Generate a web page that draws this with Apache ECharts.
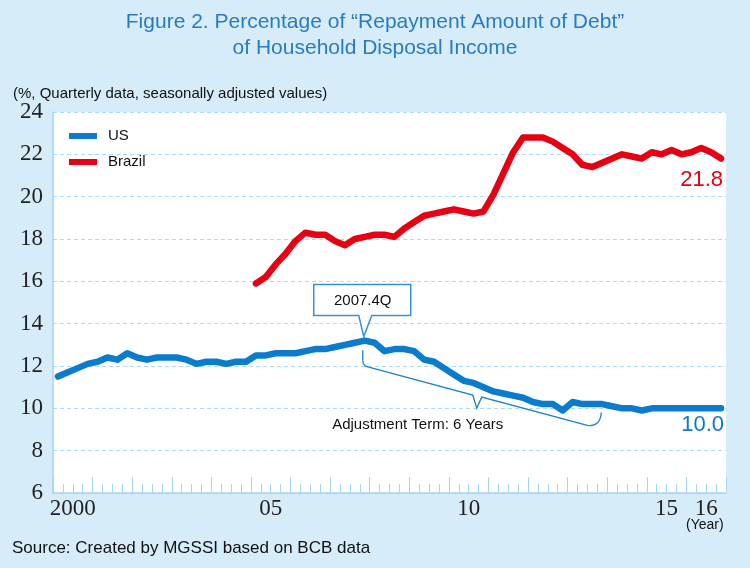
<!DOCTYPE html>
<html>
<head>
<meta charset="utf-8">
<script src="https://cdn.jsdelivr.net/npm/echarts@6.0.0/dist/echarts.min.js"></script>
<style>
html,body{margin:0;padding:0;background:#d6ecf9;}
#chart{width:750px;height:568px;}
</style>
</head>
<body>
<div id="chart"></div>
<script>
// ---------- DATA ----------
const years = ['2000','2001','2002','2003','2004','2005','2006','2007','2008','2009','2010','2011','2012','2013','2014','2015','2016'];
const yearTickLabels = ['2000','','','','','05','','','','','10','','','','','15','16'];
const quarterNames = ['Q1','Q2','Q3','Q4'];
const yTicks = { min: 6, max: 24, interval: 2 };

// US, 2000Q1 .. 2016Q4
const usValues = [
  11.5, 11.7, 11.9, 12.1,
  12.2, 12.4, 12.3, 12.6,
  12.4, 12.3, 12.4, 12.4,
  12.4, 12.3, 12.1, 12.2,
  12.2, 12.1, 12.2, 12.2,
  12.5, 12.5, 12.6, 12.6,
  12.6, 12.7, 12.8, 12.8,
  12.9, 13.0, 13.1, 13.2,
  13.1, 12.7, 12.8, 12.8,
  12.7, 12.3, 12.2, 11.9,
  11.6, 11.3, 11.2, 11.0,
  10.8, 10.7, 10.6, 10.5,
  10.3, 10.2, 10.2, 9.9,
  10.3, 10.2, 10.2, 10.2,
  10.1, 10.0, 10.0, 9.9,
  10.0, 10.0, 10.0, 10.0,
  10.0, 10.0, 10.0, 10.0
];
// Brazil, 2005Q1 .. 2016Q4
const brazilStart = '2005Q1';
const brazilValues = [
  15.9, 16.2, 16.8, 17.3,
  17.9, 18.3, 18.2, 18.2,
  17.9, 17.7, 18.0, 18.1,
  18.2, 18.2, 18.1, 18.5,
  18.8, 19.1, 19.2, 19.3,
  19.4, 19.3, 19.2, 19.3,
  20.1, 21.1, 22.1, 22.8,
  22.8, 22.8, 22.6, 22.3,
  22.0, 21.5, 21.4, 21.6,
  21.8, 22.0, 21.9, 21.8,
  22.1, 22.0, 22.2, 22.0,
  22.1, 22.3, 22.1, 21.8
];
// annotation anchors
const peakQuarter = '2007Q4';
const adjustEndQuarter = '2013Q4';
const peakLabel = '2007.4Q';
const adjustText = 'Adjustment Term: 6 Years';

// ---------- BUILD ----------
const quarters = [];
years.forEach(y => quarterNames.forEach(q => quarters.push(y + q)));
const brazilOffset = quarters.indexOf(brazilStart);
const brazilData = quarters.map((q, i) => i < brazilOffset ? null : brazilValues[i - brazilOffset]);
const lastIdx = quarters.length - 1;

const US_COLOR = '#0b7bcc';
const BR_COLOR = '#e60012';
const AXIS_COLOR = '#a3d6f1';
const SANS = 'Liberation Sans, Arial, sans-serif';
const SERIF = 'Liberation Serif, Times New Roman, serif';

const chart = echarts.init(document.getElementById('chart'), null, { renderer: 'canvas' });

chart.setOption({
  animation: false,
  backgroundColor: '#d6ecf9',
  title: [
    {
      text: 'Figure 2. Percentage of \u201cRepayment Amount of Debt\u201d\nof Household Disposal Income',
      left: 'center', top: 9, padding: [0, 30, 0, 0],
      textStyle: { fontFamily: SANS, fontSize: 21, fontWeight: 'normal', color: '#2a7bbf', lineHeight: 26 }
    },
    {
      text: '(%, Quarterly data, seasonally adjusted values)',
      left: 13, top: 86, padding: 0,
      textStyle: { fontFamily: SANS, fontSize: 15, fontWeight: 'normal', color: '#111' }
    },
    {
      text: 'Source: Created by MGSSI based on BCB data',
      left: 12, top: 540, padding: 0,
      textStyle: { fontFamily: SANS, fontSize: 17, fontWeight: 'normal', color: '#111' }
    },
    {
      text: '(Year)',
      left: 686, top: 518, padding: 0,
      textStyle: { fontFamily: SANS, fontSize: 14, fontWeight: 'normal', color: '#111' }
    }
  ],
  legend: {
    orient: 'vertical', left: 64, top: 123,
    itemWidth: 28, itemHeight: 6, itemGap: 10,
    icon: 'rect',
    textStyle: { fontFamily: SANS, fontSize: 15, color: '#111', padding: [0, 0, 0, 6], lineHeight: 16 },
    data: ['US', 'Brazil']
  },
  grid: {
    left: 53, right: 24, top: 112, bottom: 75,
    show: true, backgroundColor: '#ffffff', borderWidth: 0
  },
  xAxis: [
    {
      type: 'category', data: quarters, boundaryGap: true, position: 'bottom',
      axisLine: { show: true, lineStyle: { color: AXIS_COLOR, width: 1.5 } },
      axisTick: { show: true, inside: true, length: 9, interval: 0, lineStyle: { color: AXIS_COLOR, width: 1 } },
      axisLabel: { show: false },
      splitLine: { show: false }
    },
    {
      type: 'category', data: years, boundaryGap: true, position: 'bottom',
      axisLine: { show: false },
      axisTick: { show: true, inside: true, length: 16, interval: 0, lineStyle: { color: AXIS_COLOR, width: 1 } },
      axisLabel: {
        show: true, interval: 0, margin: 4,
        fontFamily: SERIF, fontSize: 23, color: '#222',
        formatter: (v, idx) => yearTickLabels[idx]
      },
      splitLine: { show: false }
    }
  ],
  yAxis: {
    type: 'value', min: yTicks.min, max: yTicks.max, interval: yTicks.interval,
    axisLine: { show: true, lineStyle: { color: AXIS_COLOR, width: 1.5 } },
    axisTick: { show: false },
    axisLabel: { fontFamily: SERIF, fontSize: 23, color: '#222', margin: 10 },
    splitLine: { show: true, lineStyle: { color: '#a9dcf5', width: 1, type: [4, 3] } }
  },
  series: [
    {
      name: 'US', type: 'line', data: usValues, xAxisIndex: 0, yAxisIndex: 0,
      symbol: 'none', color: US_COLOR, z: 3,
      lineStyle: { width: 6.5, color: US_COLOR, cap: 'round', join: 'round' },
      markPoint: {
        symbol: 'circle', symbolSize: 1, itemStyle: { color: 'rgba(0,0,0,0)' },
        data: [{ coord: [quarters[lastIdx], usValues[lastIdx]], value: usValues[lastIdx] }],
        label: {
          show: true, position: 'inside', align: 'right', verticalAlign: 'middle', offset: [3, 17],
          fontFamily: SANS, fontSize: 22, color: US_COLOR,
          formatter: p => Number(p.value).toFixed(1)
        }
      }
    },
    {
      name: 'Brazil', type: 'line', data: brazilData, xAxisIndex: 0, yAxisIndex: 0,
      symbol: 'none', color: BR_COLOR, z: 3,
      lineStyle: { width: 6.5, color: BR_COLOR, cap: 'round', join: 'round' },
      markPoint: {
        symbol: 'circle', symbolSize: 1, itemStyle: { color: 'rgba(0,0,0,0)' },
        data: [{ coord: [quarters[lastIdx], brazilValues[brazilValues.length - 1]], value: brazilValues[brazilValues.length - 1] }],
        label: {
          show: true, position: 'inside', align: 'right', verticalAlign: 'middle', offset: [2, 21],
          fontFamily: SANS, fontSize: 22, color: BR_COLOR,
          formatter: p => Number(p.value).toFixed(1)
        }
      }
    }
  ]
});

// ---------- ANNOTATIONS (anchored to data coordinates) ----------
const toPx = (q, v) => chart.convertToPixel({ xAxisIndex: 0, yAxisIndex: 0 }, [q, v]);
const peakVal = usValues[quarters.indexOf(peakQuarter)];
const [px, py] = toPx(peakQuarter, peakVal);
const S = toPx(peakQuarter, peakVal - 0.45);
const E = toPx(adjustEndQuarter, usValues[quarters.indexOf(adjustEndQuarter)] - 0.4);
const sx = S[0] - 2, sy = S[1];
const ex = E[0] - 1, ey = E[1];

const CALLOUT = '#3592d6';
const BRACE = '#1a80cf';
const braceStyle = { fill: null, stroke: BRACE, lineWidth: 1.3 };

chart.setOption({
  graphic: [
    {
      type: 'polygon', z: 10,
      shape: { points: [
        [px - 51, py - 56], [px + 46, py - 56], [px + 46, py - 25],
        [px + 7, py - 25], [px - 1, py - 4], [px - 6, py - 25], [px - 51, py - 25]
      ] },
      style: { fill: '#ffffff', stroke: CALLOUT, lineWidth: 1.5 }
    },
    {
      type: 'text', z: 11, x: px - 2, y: py - 40,
      style: { text: peakLabel, fill: '#111', font: '15px ' + SANS, align: 'center', verticalAlign: 'middle' }
    },
    {
      type: 'line', z: 10,
      shape: { x1: sx, y1: sy, x2: sx, y2: sy + 10 },
      style: braceStyle
    },
    {
      type: 'bezierCurve', z: 10,
      shape: { x1: sx, y1: sy + 10, cpx1: sx, cpy1: sy + 16, x2: sx + 6, y2: sy + 17 },
      style: braceStyle
    },
    {
      type: 'polyline', z: 10,
      shape: { points: [
        [sx + 6, sy + 17], [sx + 110, sy + 45], [sx + 114, sy + 58],
        [sx + 119, sy + 47], [ex - 13, ey + 13]
      ] },
      style: braceStyle
    },
    {
      type: 'bezierCurve', z: 10,
      shape: { x1: ex - 13, y1: ey + 13, cpx1: ex - 1, cpy1: ey + 14, x2: ex, y2: ey },
      style: braceStyle
    },
    {
      type: 'text', z: 11, x: sx + 55, y: sy + 75,
      style: { text: adjustText, fill: '#111', font: '15px ' + SANS, align: 'center', verticalAlign: 'middle' }
    }
  ]
});
</script>
</body>
</html>
